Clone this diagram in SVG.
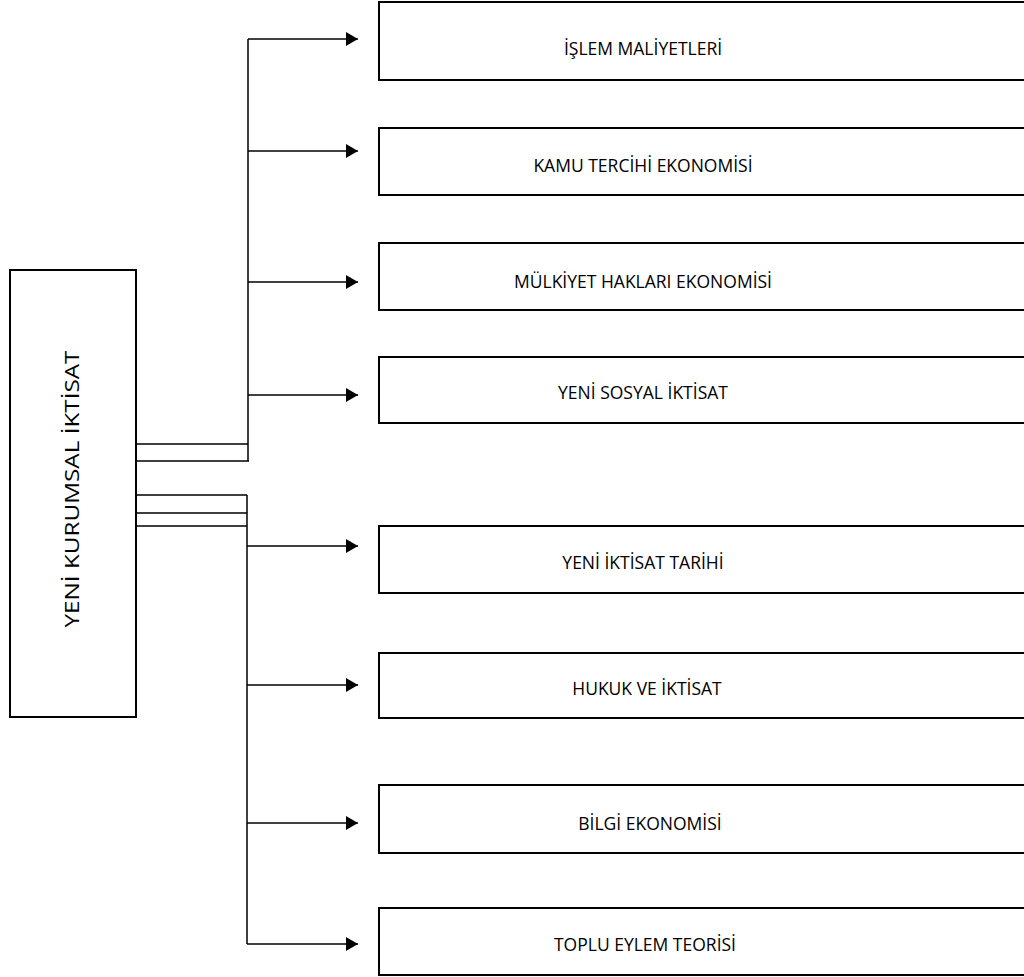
<svg xmlns="http://www.w3.org/2000/svg" width="1024" height="977" viewBox="0 0 1024 977">
<style>
.box{fill:#fff;stroke:#000;stroke-width:2}
.lbl{font-family:"Open Sans",sans-serif;font-size:17.5px;fill:#000;text-anchor:middle}
.root{font-family:"Open Sans",sans-serif;font-size:20px;fill:#000;text-anchor:middle}
.ln{fill:none;stroke:#000;stroke-width:1.5}
</style>
<defs>
<marker id="ah" viewBox="0 0 12 14" refX="12" refY="7" markerWidth="12" markerHeight="14" markerUnits="userSpaceOnUse" orient="auto">
<path d="M0,0 L12,7 L0,14 Z" fill="#000"/>
</marker>
</defs>
<rect width="1024" height="977" fill="#fff"/>
<g id="connectors">
<path class="ln" d="M136,444 H248 M136,461 H249 M248,461 V39"/>
<path class="ln" d="M136,495 H247 M136,513 H247 M136,526 H247 M247,495 V944"/>
<path class="ln" marker-end="url(#ah)" d="M248,39 H358"/>
<path class="ln" marker-end="url(#ah)" d="M248,151 H358"/>
<path class="ln" marker-end="url(#ah)" d="M248,282 H358"/>
<path class="ln" marker-end="url(#ah)" d="M248,395 H358"/>
<path class="ln" marker-end="url(#ah)" d="M247,546 H358"/>
<path class="ln" marker-end="url(#ah)" d="M247,685 H358"/>
<path class="ln" marker-end="url(#ah)" d="M247,823 H358"/>
<path class="ln" marker-end="url(#ah)" d="M247,944 H358"/>
</g>
<g id="root">
<rect class="box" x="10" y="270" width="126" height="447"/>
<text class="root" transform="translate(79,489) rotate(-90)" textLength="277" lengthAdjust="spacingAndGlyphs">YENİ KURUMSAL İKTİSAT</text>
</g>
<g id="n1"><rect class="box" x="379" y="2" width="660" height="78"/><text class="lbl" x="643" y="55">İŞLEM MALİYETLERİ</text></g>
<g id="n2"><rect class="box" x="379" y="128" width="660" height="67"/><text class="lbl" x="643" y="172">KAMU TERCİHİ EKONOMİSİ</text></g>
<g id="n3"><rect class="box" x="379" y="243" width="660" height="67"/><text class="lbl" x="643" y="288">MÜLKİYET HAKLARI EKONOMİSİ</text></g>
<g id="n4"><rect class="box" x="379" y="357" width="660" height="66"/><text class="lbl" x="643" y="399">YENİ SOSYAL İKTİSAT</text></g>
<g id="n5"><rect class="box" x="379" y="526" width="660" height="67"/><text class="lbl" x="643" y="569">YENİ İKTİSAT TARİHİ</text></g>
<g id="n6"><rect class="box" x="379" y="653" width="660" height="65"/><text class="lbl" x="647" y="695">HUKUK VE İKTİSAT</text></g>
<g id="n7"><rect class="box" x="379" y="785" width="660" height="68"/><text class="lbl" x="650" y="830">BİLGİ EKONOMİSİ</text></g>
<g id="n8"><rect class="box" x="379" y="908" width="660" height="67"/><text class="lbl" x="645" y="951">TOPLU EYLEM TEORİSİ</text></g>
</svg>
